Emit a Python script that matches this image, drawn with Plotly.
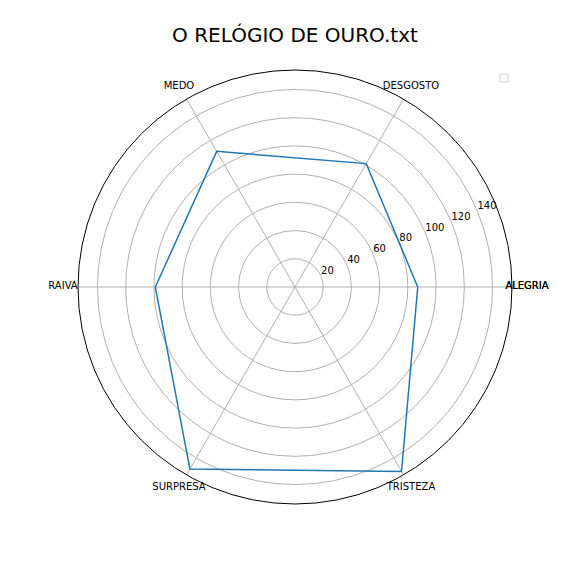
import plotly.graph_objects as go

categories = ["ALEGRIA", "DESGOSTO", "MEDO", "RAIVA", "SURPRESA", "TRISTEZA"]
values = [87, 101, 111, 99, 149, 151]
radial_ticks = [20, 40, 60, 80, 100, 120, 140]
title_text = "O RELÓGIO DE OURO.txt"

theta = categories + [categories[0]]
r = values + [values[0]]

W = H = 576
OFF = 8  # page body margin
cx, cy, rad = 295 - OFF, 287 - OFF, 217
RMAX = 153.8
# overlay polar with the same scale but a larger range, for the labels
RMAX2 = 172.0
rad2 = rad * RMAX2 / RMAX
label_r = RMAX * 232 / 217

n = len(categories)
label_theta = [i * 360.0 / n for i in range(n + 1)]
label_text = categories + [categories[0]]

fig = go.Figure()
fig.add_trace(go.Scatterpolar(
    r=r, theta=theta, mode="lines",
    line=dict(color="#1f77b4", width=1.5),
    showlegend=False, subplot="polar",
))
fig.add_trace(go.Scatterpolar(
    r=[label_r] * len(label_text), theta=label_theta, mode="text",
    text=label_text, textposition="middle center",
    textfont=dict(size=10, color="black", family="DejaVu Sans"),
    cliponaxis=False, showlegend=False, hoverinfo="skip", subplot="polar2",
))
fig.add_trace(go.Scatterpolar(
    r=radial_ticks, theta=[22.5] * len(radial_ticks), mode="text",
    text=[str(v) for v in radial_ticks], textposition="top right",
    textfont=dict(size=10, color="black", family="DejaVu Sans"),
    cliponaxis=False, showlegend=False, hoverinfo="skip", subplot="polar2",
))

fig.update_layout(
    width=W, height=H,
    margin=dict(l=0, r=0, t=0, b=0),
    paper_bgcolor="white",
    font=dict(family="DejaVu Sans", size=10, color="black"),
    title=dict(text=title_text, x=(295 - OFF) / W, xanchor="center",
               y=1 - (35 - OFF) / H, yanchor="middle",
               font=dict(size=20, color="black", family="DejaVu Sans")),
    polar=dict(
        domain=dict(x=[(cx - rad) / W, (cx + rad) / W],
                    y=[1 - (cy + rad) / H, 1 - (cy - rad) / H]),
        bgcolor="white",
        angularaxis=dict(
            direction="counterclockwise", rotation=0,
            showline=True, linecolor="black", linewidth=1,
            showgrid=True, gridcolor="#b0b0b0", gridwidth=0.8,
            ticks="", showticklabels=False,
        ),
        radialaxis=dict(
            range=[0, RMAX], tickvals=radial_ticks,
            showline=False, angle=22.5, showticklabels=False,
            showgrid=True, gridcolor="#b0b0b0", gridwidth=0.8, ticks="",
        ),
    ),
    polar2=dict(
        domain=dict(x=[(cx - rad2) / W, (cx + rad2) / W],
                    y=[1 - (cy + rad2) / H, 1 - (cy - rad2) / H]),
        bgcolor="rgba(0,0,0,0)",
        angularaxis=dict(direction="counterclockwise", rotation=0, visible=False),
        radialaxis=dict(range=[0, RMAX2], visible=False),
    ),
    shapes=[dict(type="rect", xref="paper", yref="paper",
                 x0=(500 - OFF) / W, x1=(508 - OFF) / W,
                 y0=1 - (82 - OFF) / H, y1=1 - (74 - OFF) / H,
                 line=dict(color="#d0d0d0", width=1), fillcolor="white")],
)

fig.write_html("out.html")
